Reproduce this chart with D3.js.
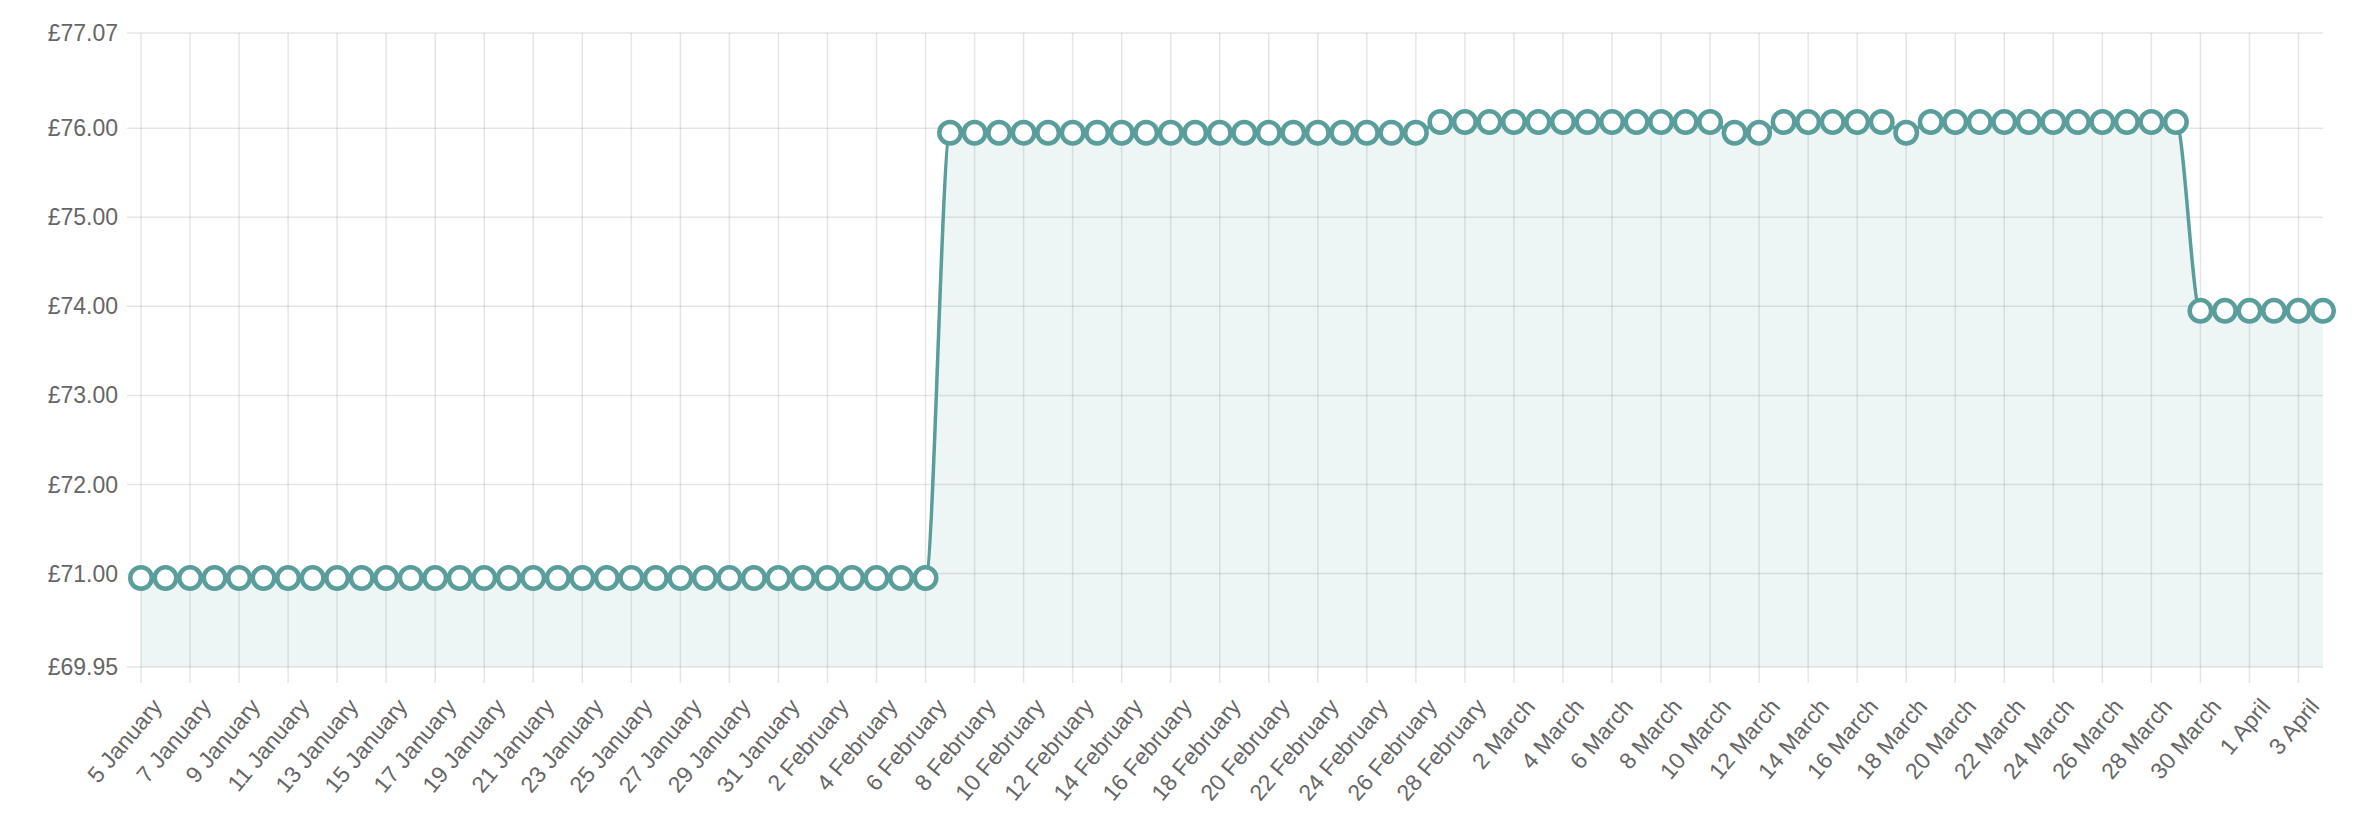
<!DOCTYPE html>
<html>
<head>
<meta charset="utf-8">
<script src="https://cdn.jsdelivr.net/npm/d3@7"></script>
<style>
  body { margin: 0; background: #fff; }
  text { font-family: "Liberation Sans", Arial, Helvetica, sans-serif; fill: #666; }
</style>
</head>
<body>
<div id="chart"></div>
<script>
// daily price, 5 January to 4 April
var firstDay = new Date(2023, 0, 5);
var lastDay = new Date(2023, 3, 4);

var prices = [
    70.95, 70.95, 70.95, 70.95, 70.95, 70.95, 70.95, 70.95, 70.95, 70.95,
    70.95, 70.95, 70.95, 70.95, 70.95, 70.95, 70.95, 70.95, 70.95, 70.95,
    70.95, 70.95, 70.95, 70.95, 70.95, 70.95, 70.95, 70.95, 70.95, 70.95,
    70.95, 70.95, 70.95,
    75.95, 75.95, 75.95, 75.95, 75.95, 75.95, 75.95, 75.95, 75.95, 75.95,
    75.95, 75.95, 75.95, 75.95, 75.95, 75.95, 75.95, 75.95, 75.95, 75.95,
    76.07, 76.07, 76.07, 76.07, 76.07, 76.07, 76.07, 76.07, 76.07, 76.07,
    76.07, 76.07,
    75.95, 75.95,
    76.07, 76.07, 76.07, 76.07, 76.07,
    75.95,
    76.07, 76.07, 76.07, 76.07, 76.07, 76.07, 76.07, 76.07, 76.07, 76.07,
    76.07,
    73.95, 73.95, 73.95, 73.95, 73.95, 73.95
];

var yTicks = [69.95, 71, 72, 73, 74, 75, 76, 77.07];

(function() {
    var width = 2370;
    var height = 834;
    var plotLeft = 141, plotRight = 2323, plotTop = 33, plotBottom = 667;
    var teal = "#5a9e9c";

    var days = d3.timeDay.range(firstDay, d3.timeDay.offset(lastDay, 1));
    var data = days.map(function(d, i) { return { date: d, price: prices[i] }; });
    var xTicks = days.filter(function(d, i) { return i % 2 === 0 && i < days.length - 1; });

    var svg = d3.select("#chart").append("svg")
        .attr("width", width)
        .attr("height", height);

    var x = d3.scaleTime()
        .domain([firstDay, lastDay])
        .range([plotLeft, plotRight]);

    var y = d3.scaleLinear()
        .domain([d3.min(yTicks), d3.max(yTicks)])
        .range([plotBottom, plotTop]);

    var fmt = d3.timeFormat("%-d %B");

    // grid
    svg.append("g").selectAll("line")
        .data(yTicks)
        .enter().append("line")
        .attr("x1", plotLeft - 14).attr("x2", plotRight)
        .attr("y1", function(d) { return y(d); })
        .attr("y2", function(d) { return y(d); })
        .attr("stroke", "rgba(0,0,0,0.1)")
        .attr("stroke-width", 1.5);

    svg.append("g").selectAll("line")
        .data(xTicks)
        .enter().append("line")
        .attr("x1", function(d) { return x(d); })
        .attr("x2", function(d) { return x(d); })
        .attr("y1", plotTop).attr("y2", plotBottom + 16)
        .attr("stroke", "rgba(0,0,0,0.1)")
        .attr("stroke-width", 1.5);

    // y labels
    svg.append("g").selectAll("text")
        .data(yTicks)
        .enter().append("text")
        .attr("x", plotLeft - 23)
        .attr("y", function(d) { return y(d); })
        .attr("dy", "0.35em")
        .attr("text-anchor", "end")
        .style("font-size", "23px")
        .text(function(d) { return "£" + d.toFixed(2); });

    // x labels
    svg.append("g").selectAll("text")
        .data(xTicks)
        .enter().append("text")
        .attr("transform", function(d) { return "translate(" + (x(d) + 16) + "," + 702 + ") rotate(-50)"; })
        .attr("dy", "0.35em")
        .attr("text-anchor", "end")
        .style("font-size", "23px")
        .text(function(d) { return fmt(d); });

    var area = d3.area()
        .x(function(d) { return x(d.date); })
        .y0(plotBottom)
        .y1(function(d) { return y(d.price); })
        .curve(d3.curveMonotoneX);

    var line = d3.line()
        .x(function(d) { return x(d.date); })
        .y(function(d) { return y(d.price); })
        .curve(d3.curveMonotoneX);

    svg.append("path")
        .datum(data)
        .attr("d", area)
        .attr("fill", teal)
        .attr("fill-opacity", 0.1);

    svg.append("path")
        .datum(data)
        .attr("d", line)
        .attr("fill", "none")
        .attr("stroke", teal)
        .attr("stroke-width", 3.5);

    svg.append("g").selectAll("circle")
        .data(data)
        .enter().append("circle")
        .attr("cx", function(d) { return x(d.date); })
        .attr("cy", function(d) { return y(d.price); })
        .attr("r", 10.75)
        .attr("fill", "#fff")
        .attr("stroke", teal)
        .attr("stroke-width", 4.5);
})();
</script>
</body>
</html>
